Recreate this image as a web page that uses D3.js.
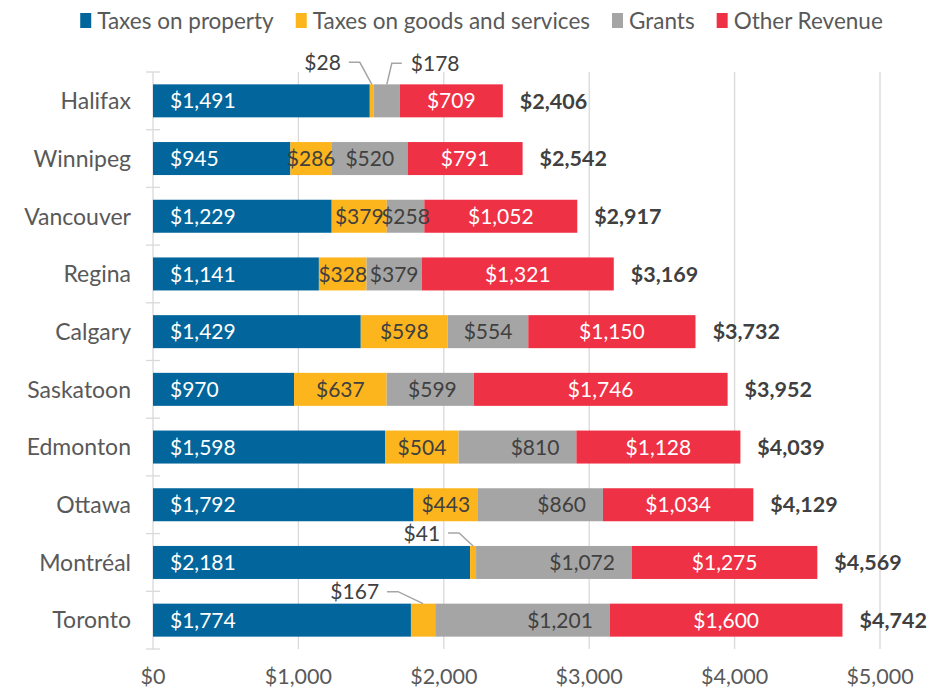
<!DOCTYPE html>
<html><head><meta charset="utf-8">
<script src="https://cdn.jsdelivr.net/npm/d3@7"></script>
<style>
body{margin:0;background:#fff;}
svg{display:block;font-family:Lato,"Noto Sans",sans-serif;}
</style></head>
<body><svg id="c" width="949" height="691"></svg>
<script>
const cities = ["Halifax","Winnipeg","Vancouver","Regina","Calgary","Saskatoon","Edmonton","Ottawa","Montréal","Toronto"];
const seriesNames = ["Taxes on property","Taxes on goods and services","Grants","Other Revenue"];
const taxesProperty = [1491,945,1229,1141,1429,970,1598,1792,2181,1774];
const taxesGoods = [28,286,379,328,598,637,504,443,41,167];
const grants = [178,520,258,379,554,599,810,860,1072,1201];
const otherRevenue = [709,791,1052,1321,1150,1746,1128,1034,1275,1600];
const totals = [2406,2542,2917,3169,3732,3952,4039,4129,4569,4742];
const xTicks = [0,1000,2000,3000,4000,5000];
// segments labelled with a leader line instead of an inside label
const callouts = [
  {city:"Halifax", series:1, side:"left", dx:-12, dy:-22},
  {city:"Halifax", series:2, side:"right", dx:5, dy:-21},
  {city:"Montréal", series:1, side:"left", dx:-14, dy:-13},
  {city:"Toronto", series:1, side:"left", dx:-25, dy:-12}
];

const colors = ["#02669c","#fdb51d","#a5a5a5","#ef3146"];
const textColors = ["#ffffff","#404040","#404040","#ffffff"];
const values = [taxesProperty, taxesGoods, grants, otherRevenue];

const svg = d3.select("#c");
const x = d3.scaleLinear().domain([0,5000]).range([153,880]);
const y = d3.scaleBand().domain(cities).range([72,649]).paddingInner(0.428).paddingOuter(0.214);
const fmt = v => "$" + d3.format(",")(v);

// gridlines
svg.append("g").selectAll("line").data(xTicks.slice(1)).join("line")
  .attr("x1", d=>x(d)).attr("x2", d=>x(d)).attr("y1",72).attr("y2",649)
  .attr("stroke","#d9d9d9").attr("stroke-width",1.3);

// y axis line and ticks
svg.append("line").attr("x1",x(0)).attr("x2",x(0)).attr("y1",72).attr("y2",649)
  .attr("stroke","#d9d9d9").attr("stroke-width",1.3);
const bounds = d3.range(cities.length+1).map(i => 72 + i*y.step());
svg.append("g").selectAll("line").data(bounds).join("line")
  .attr("x1",x(0)-7).attr("x2",x(0)+7).attr("y1",d=>d).attr("y2",d=>d)
  .attr("stroke","#d9d9d9").attr("stroke-width",1.3);

// x axis labels
svg.append("g").selectAll("text").data(xTicks).join("text")
  .attr("x", d=>x(d)).attr("y",684).attr("text-anchor","middle")
  .attr("font-size",21.5).attr("fill","#595959").text(d=>fmt(d));

// category labels
svg.append("g").selectAll("text").data(cities).join("text")
  .attr("x",131).attr("y", d=>y(d)+y.bandwidth()/2).attr("dy","0.36em")
  .attr("text-anchor","end").attr("font-size",23).attr("fill","#595959").text(d=>d);

// stacked bars
const bw = y.bandwidth();
const calloutKey = new Set(callouts.map(c=>c.city+"|"+c.series));
const segs = [];
cities.forEach((city,i)=>{
  let cum = 0;
  values.forEach((arr,s)=>{
    const v = arr[i];
    segs.push({city, s, v, x0:x(cum), x1:x(cum+v)});
    cum += v;
  });
});
svg.append("g").selectAll("rect").data(segs).join("rect")
  .attr("x",d=>d.x0).attr("y",d=>y(d.city)).attr("width",d=>d.x1-d.x0).attr("height",bw)
  .attr("fill",d=>colors[d.s]);

const lblG = svg.append("g");
segs.forEach(d=>{
  if (calloutKey.has(d.city+"|"+d.s)) return;
  const t = lblG.append("text").attr("y",y(d.city)+bw/2).attr("dy","0.36em")
    .attr("font-size",21).attr("fill",textColors[d.s]).text(fmt(d.v));
  const w = t.node().getComputedTextLength();
  if (d.s===0 && d.x1-d.x0 > w+34) t.attr("x",d.x0+17).attr("text-anchor","start");
  else if (d.s===2 && d.x1-d.x0 > w+34) t.attr("x",d.x1-17).attr("text-anchor","end");
  else t.attr("x",(d.x0+d.x1)/2).attr("text-anchor","middle");
});

cities.forEach((city,i)=>{
  svg.append("text").attr("x",x(totals[i])+17).attr("y",y(city)+bw/2).attr("dy","0.36em")
    .attr("font-size",21.5).attr("font-weight","bold").attr("fill","#404040").text(fmt(totals[i]));
});

// callouts
callouts.forEach(c=>{
  const i = cities.indexOf(c.city);
  let start = 0; for (let s=0;s<c.series;s++) start += values[s][i];
  const v = values[c.series][i];
  const cx = (x(start)+x(start+v))/2, cy = y(c.city);
  const ex = cx + c.dx, ey = cy + c.dy;
  const sx = c.side==="left" ? ex-11 : ex+10;
  svg.append("polyline").attr("points",`${sx},${ey} ${ex},${ey} ${cx},${cy}`)
    .attr("fill","none").attr("stroke","#a5a5a5").attr("stroke-width",1.5);
  svg.append("text").attr("x", c.side==="left" ? sx-8 : sx+9).attr("y",ey).attr("dy","0.36em")
    .attr("text-anchor", c.side==="left" ? "end":"start")
    .attr("font-size",21).attr("fill","#404040").text(fmt(v));
});

// legend
const lg = svg.append("g");
let lx = 0;
seriesNames.forEach((n,s)=>{
  const g = lg.append("g").attr("transform",`translate(${lx},0)`);
  g.append("rect").attr("x",0).attr("y",13).attr("width",11).attr("height",15).attr("fill",colors[s]);
  const t = g.append("text").attr("x",17).attr("y",20.5).attr("dy","0.36em")
    .attr("font-size",22.5).attr("fill","#595959").text(n);
  lx += 17 + t.node().getComputedTextLength() + 22;
});
lx -= 22;
lg.attr("transform",`translate(${481.5 - lx/2},0)`);
</script></body></html>
